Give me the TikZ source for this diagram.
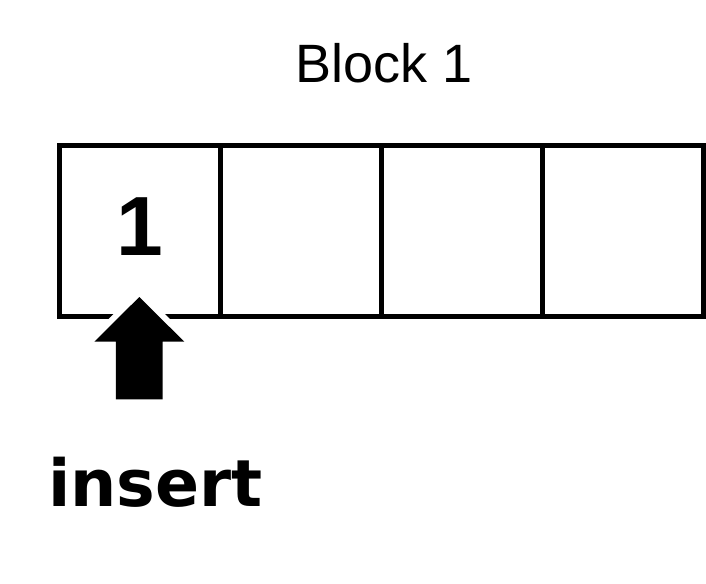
\documentclass[tikz,border=0pt]{standalone}
\usepackage{fontspec}
\newfontfamily\blockfont{Liberation Sans}
\newfontfamily\opfont{DejaVu Sans}
\usetikzlibrary{positioning}

\begin{document}
\begin{tikzpicture}[
    x=0.5pt, y=-0.5pt,
    node distance=0pt,
    cell/.style={
        draw,
        line width=2.5pt,
        minimum width=80.5pt,
        minimum height=85.5pt,
        inner sep=0pt,
        outer sep=0pt,
        font=\blockfont\bfseries\fontsize{42}{42}\selectfont
    },
    title/.style={
        inner sep=0pt,
        font=\blockfont\fontsize{27}{27}\selectfont
    },
    oplabel/.style={
        inner sep=0pt,
        font=\opfont\bfseries\fontsize{32.5}{32.5}\selectfont
    },
    bigarrow/.style={
        fill=black,
        preaction={draw=white, line width=6pt, line join=miter}
    }
]
\useasboundingbox (0,0) rectangle (706,583);

% The block and its four slots
\node[cell] (c1) at (140,230.5) {\raisebox{3.5pt}{1}};
\node[cell, right=of c1] (c2) {};
\node[cell, right=of c2] (c3) {};
\node[cell, right=of c3] (c4) {};

\node[title, anchor=base] (block) at (384,83) {Block 1};

% Insert pointer
\coordinate (tip) at ([xshift=-0.35pt, yshift=9.5pt]c1.south);
\path[bigarrow] (tip)
    -- ++(45,44.7) -- ++(-21.65,0) -- ++(0,57.6) -- ++(-46.7,0)
    -- ++(0,-57.6) -- ++(-21.65,0) -- cycle;

\node[oplabel, anchor=base west] (ins) at (48,506) {insert};

\end{tikzpicture}
\end{document}
